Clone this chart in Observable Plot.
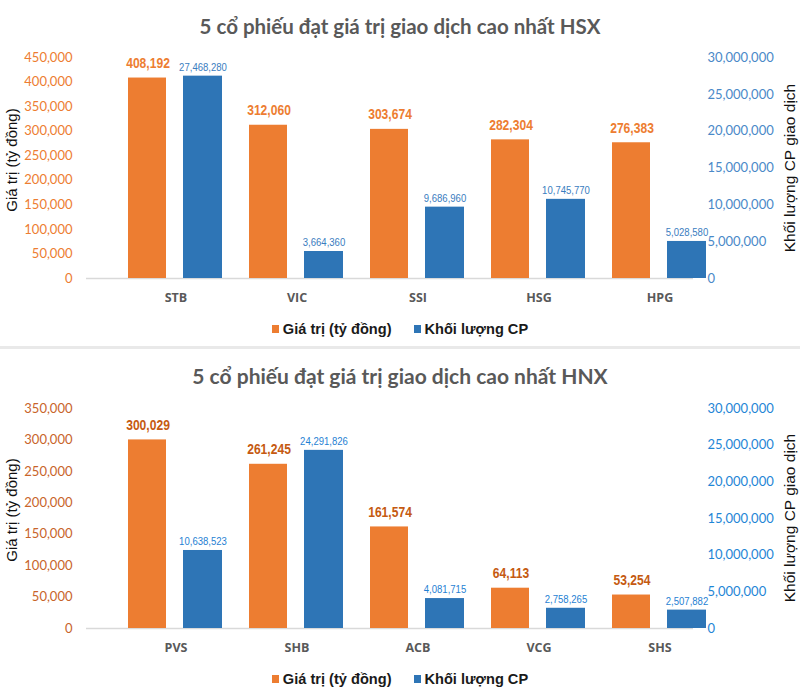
<!DOCTYPE html>
<html><head><meta charset="utf-8">
<script src="https://cdn.jsdelivr.net/npm/d3@7"></script>
<script src="https://cdn.jsdelivr.net/npm/@observablehq/plot@0.6"></script>
<style>
body{margin:0;background:#fff;}
#wrap{position:relative;width:800px;height:700px;overflow:hidden;background:#fff;}
.title{position:absolute;left:0;width:800px;text-align:center;font-family:Lato,"Liberation Sans",sans-serif;font-weight:bold;font-size:20px;line-height:24px;color:#595959;}
.ylab{position:absolute;width:300px;text-align:center;line-height:20px;font-family:"Liberation Sans",Arial,sans-serif;color:#111;white-space:nowrap;transform:rotate(-90deg);}
.legend{position:absolute;left:0;width:800px;display:flex;justify-content:center;align-items:center;font-family:"Liberation Sans",Arial,sans-serif;font-weight:bold;font-size:14.6px;line-height:18px;color:#1a1a1a;}
.legend .sw{display:inline-block;width:7px;height:8px;margin-right:4px;}
.legend .item{display:flex;align-items:center;}
.sep{position:absolute;left:0;width:800px;height:3px;background:#e9e9e9;}
.chart{position:absolute;left:0;}
</style>
</head><body>
<div id="wrap"></div>
<script>
// ---- data ----
const hsxTitle = "5 cổ phiếu đạt giá trị giao dịch cao nhất HSX";
const hsxCodes = ["STB", "VIC", "SSI", "HSG", "HPG"];
const hsxValue = [408192, 312060, 303674, 282304, 276383];
const hsxVolume = [27468280, 3664360, 9686960, 10745770, 5028580];
const hsxValueTicks = [0, 50000, 100000, 150000, 200000, 250000, 300000, 350000, 400000, 450000];
const hsxVolumeTicks = [0, 5000000, 10000000, 15000000, 20000000, 25000000, 30000000];

const hnxTitle = "5 cổ phiếu đạt giá trị giao dịch cao nhất HNX";
const hnxCodes = ["PVS", "SHB", "ACB", "VCG", "SHS"];
const hnxValue = [300029, 261245, 161574, 64113, 53254];
const hnxVolume = [10638523, 24291826, 4081715, 2758265, 2507882];
const hnxValueTicks = [0, 50000, 100000, 150000, 200000, 250000, 300000, 350000];
const hnxVolumeTicks = [0, 5000000, 10000000, 15000000, 20000000, 25000000, 30000000];

const seriesNames = ["Giá trị (tỷ đồng)", "Khối lượng CP"];
const leftAxisTitle = "Giá trị (tỷ đồng)";
const rightAxisTitle = "Khối lượng CP giao dịch";

// ---- drawing ----
const fmt = d3.format(",");
const LABELFONT = "'Liberation Sans',Arial,sans-serif";
const TICKFONT = "Lato,'Open Sans',sans-serif";
const ORANGE = "#ED7D31", BLUE = "#2E75B6";

function makeChart(o) {
  const vMax = d3.max(o.valueTicks), volMax = d3.max(o.volumeTicks);
  const k = vMax / volMax;
  const rows = o.codes.map((c, i) => ({code: c, value: o.value[i], volume: o.volume[i], volY: o.volume[i] * k}));
  return Plot.plot({
    width: 800, height: 270,
    marginTop: o.marginTop, marginBottom: 32, marginLeft: 86, marginRight: 107,
    style: {background: "transparent", overflow: "visible"},
    x: {type: "band", domain: o.codes, range: [115, 720], padding: 0},
    y: {domain: [0, vMax]},
    marks: [
      Plot.ruleY([0], {stroke: "#d9d9d9", strokeWidth: 1.5}),
      Plot.barY(rows, {x: "code", y: "value", fill: ORANGE, insetLeft: 13, insetRight: 70}),
      Plot.barY(rows, {x: "code", y: "volY", fill: BLUE, insetLeft: 68, insetRight: 14}),
      Plot.text(rows, {x: "code", y: "value", text: d => fmt(d.value), dx: -28, dy: -15,
        fill: o.orangeLabel, fontWeight: "bold", fontSize: 15.5, fontFamily: LABELFONT}),
      Plot.text(rows, {x: "code", y: "volY", text: d => fmt(d.volume), dx: 27, dy: -9,
        fill: o.blueLabel, fontSize: 11.5, fontFamily: LABELFONT}),
      Plot.axisX({tickSize: 0, tickPadding: 15, label: null, fill: "#595959",
        fontWeight: "bold", fontSize: 12.5, fontFamily: "'Open Sans',sans-serif"}),
      Plot.axisY({ticks: o.valueTicks, tickFormat: fmt, tickSize: 0, tickPadding: 14, label: null,
        fill: o.leftTick, fontSize: 13, fontFamily: TICKFONT}),
      Plot.axisY({anchor: "right", ticks: o.volumeTicks.map(t => t * k),
        tickFormat: d => fmt(Math.round(d / k)), tickSize: 0, tickPadding: 14, label: null,
        fill: o.rightTick, fontSize: 13, fontFamily: TICKFONT})
    ]
  });
}

// narrow the data labels (reference uses a condensed face)
function condense(svg) {
  const groups = svg.querySelectorAll('g[aria-label="text"]');
  groups.forEach((g, gi) => {
    const ratio = gi === 0 ? 0.78 : 0.83;
    g.querySelectorAll("text").forEach(t => {
      const w = t.getComputedTextLength();
      t.setAttribute("textLength", (w * ratio).toFixed(1));
      t.setAttribute("lengthAdjust", "spacingAndGlyphs");
    });
  });
}

const wrap = document.getElementById("wrap");
function el(cls, css, html) {
  const d = document.createElement("div");
  d.className = cls;
  Object.assign(d.style, css);
  if (html != null) d.textContent = html;
  wrap.appendChild(d);
  return d;
}
function legend(top) {
  const L = el("legend", {top: top + "px"});
  [[ORANGE, seriesNames[0]], [BLUE, seriesNames[1]]].forEach(([c, t], i) => {
    const it = document.createElement("span");
    it.className = "item";
    if (i) it.style.marginLeft = "22px";
    const sw = document.createElement("span");
    sw.className = "sw"; sw.style.background = c;
    const tx = document.createElement("span");
    tx.textContent = t;
    it.appendChild(sw); it.appendChild(tx);
    L.appendChild(it);
  });
}
function panel(o) {
  el("title", {top: o.top + 14 + "px", fontSize: o.titleSize + "px"}, o.title);
  const c = el("chart", {top: o.top + 40 + "px"});
  const svg = makeChart(o);
  c.appendChild(svg);
  condense(svg);
  const plotMid = o.top + 40 + o.marginTop + (270 - 32 - o.marginTop) / 2;
  el("ylab", {left: (12 - 150) + "px", top: (plotMid - 8 - 10) + "px", fontSize: "15px"}, leftAxisTitle);
  el("ylab", {left: (790 - 150) + "px", top: (plotMid - 10) + "px", fontSize: "15.5px"}, rightAxisTitle);
  legend(o.top + 320);
}

panel({top: 0, title: hsxTitle, titleSize: 20.5, codes: hsxCodes, value: hsxValue, volume: hsxVolume,
  valueTicks: hsxValueTicks, volumeTicks: hsxVolumeTicks, marginTop: 17,
  orangeLabel: "#ED7D31", blueLabel: "#3A7DC0", leftTick: "#ED7D31", rightTick: "#4A89C8"});
el("sep", {top: "346px"});
panel({top: 350, title: hnxTitle, titleSize: 21, codes: hnxCodes, value: hnxValue, volume: hnxVolume,
  valueTicks: hnxValueTicks, volumeTicks: hnxVolumeTicks, marginTop: 18,
  orangeLabel: "#C55A11", blueLabel: "#1F7FD3", leftTick: "#C8642A", rightTick: "#1F86D6"});
</script>
</body></html>
